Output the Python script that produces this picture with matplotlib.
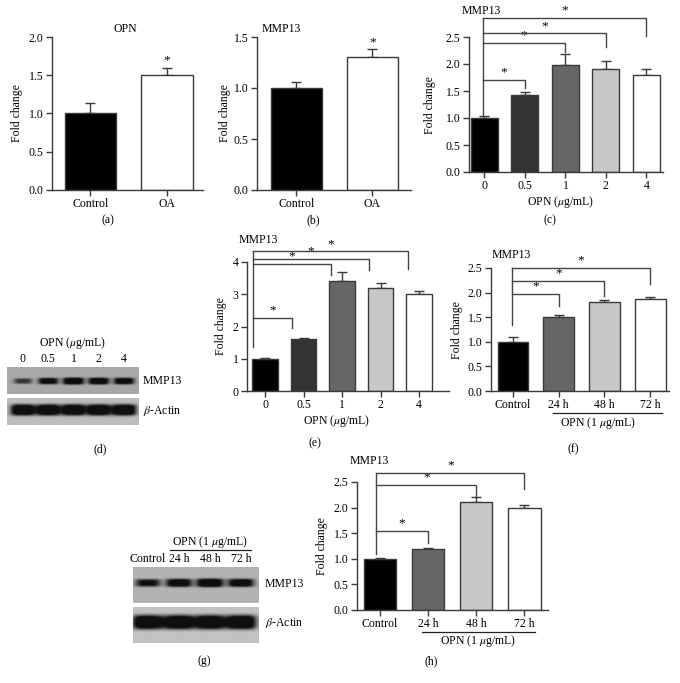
import numpy as np
import matplotlib
matplotlib.use('Agg')
import matplotlib.pyplot as plt
from matplotlib.ticker import FormatStrFormatter
from matplotlib.transforms import blended_transform_factory

plt.rcParams['font.family'] = ['Liberation Serif', 'DejaVu Serif']
plt.rcParams['mathtext.fontset'] = 'stix'
plt.rcParams['font.size'] = 8.5

W, H = 680, 683

# ---- data ----
a_labels = ['Control', 'OA']
a_vals = [1.0, 1.5]
a_err = [0.14, 0.10]

b_labels = ['Control', 'OA']
b_vals = [1.0, 1.3]
b_err = [0.06, 0.08]

c_labels = ['0', '0.5', '1', '2', '4']
c_vals = [1.0, 1.43, 1.98, 1.90, 1.80]
c_err = [0.03, 0.05, 0.20, 0.15, 0.10]
c_sig_to = [1, 2, 3, 4]
c_sig_top = [1.70, 2.39, 2.57, 2.85]
c_sig_end = [1.55, 2.22, 2.31, 2.52]
c_sig_base = 1.05

e_labels = ['0', '0.5', '1', '2', '4']
e_vals = [1.0, 1.6, 3.4, 3.2, 3.0]
e_err = [0.03, 0.05, 0.30, 0.15, 0.10]
e_sig_to = [1, 2, 3, 4]
e_sig_top = [2.26, 3.94, 4.10, 4.33]
e_sig_end = [1.95, 3.60, 3.76, 3.79]
e_sig_base = 1.37

f_labels = ['Control', '24 h', '48 h', '72 h']
f_vals = [1.0, 1.5, 1.8, 1.88]
f_err = [0.10, 0.04, 0.05, 0.04]
f_sig_to = [1, 2, 3]
f_sig_top = [1.97, 2.24, 2.50]
f_sig_end = [1.73, 1.93, 2.17]
f_sig_base = 1.34

h_labels = ['Control', '24 h', '48 h', '72 h']
h_vals = [1.0, 1.2, 2.1, 2.0]
h_err = [0.01, 0.01, 0.10, 0.05]
h_sig_to = [1, 2, 3]
h_sig_top = [1.55, 2.45, 2.68]
h_sig_end = [1.31, 2.22, 2.36]
h_sig_base = 1.10

# western blot band strength per lane (0..1)
d_lanes = ['0', '0.5', '1', '2', '4']
d_mmp13 = [0.55, 0.85, 1.0, 0.95, 0.9]
d_actin = [1.0, 1.0, 1.0, 1.0, 1.0]
g_lanes = ['Control', '24 h', '48 h', '72 h']
g_mmp13 = [0.75, 0.9, 1.0, 0.9]
g_actin = [1.0, 1.0, 1.0, 1.0]

EDGE = '#3a3a3a'
shades5 = ['#000000', '#333333', '#666666', '#c8c8c8', '#ffffff']
shades4 = ['#000000', '#666666', '#c8c8c8', '#ffffff']

fig = plt.figure(figsize=(W / 100, H / 100), dpi=100)


def box(l, t, r, b):
    return fig.add_axes([l / W, 1 - b / H, (r - l) / W, (b - t) / H])


def bar_panel(rect, labels, vals, err, colors, ymax, ystep, xlim, fmt='%.1f'):
    ax = box(*rect)
    x = np.arange(len(vals))
    ax.bar(x, vals, width=0.67, color=colors, edgecolor=EDGE, linewidth=1, zorder=2)
    ax.errorbar(x, vals, yerr=[np.zeros(len(vals)), err], fmt='none', ecolor=EDGE,
                elinewidth=1, capsize=3.5, capthick=1, zorder=1)
    ax.set_xlim(*xlim)
    ax.set_ylim(0, ymax)
    ax.set_yticks(np.arange(0, ymax + 1e-6, ystep))
    ax.yaxis.set_major_formatter(FormatStrFormatter(fmt))
    ax.set_xticks(x, labels)
    for s in ['top', 'right']:
        ax.spines[s].set_visible(False)
    for s in ['left', 'bottom']:
        ax.spines[s].set_color(EDGE)
        ax.spines[s].set_linewidth(1)
    ax.tick_params(direction='out', length=4, width=1, color=EDGE, pad=2)
    ax.patch.set_alpha(0)
    return ax


def brackets(ax, to, top, end, base, x0, off):
    kw = dict(color='#444444', lw=1, clip_on=False, zorder=3)
    ax.plot([x0, x0], [base, max(top)], **kw)
    for i, t, e in zip(to, top, end):
        xi = i + off
        ax.plot([x0, xi, xi], [t, t, e], **kw)
        ax.annotate('*', ((x0 + xi) / 2, t), xytext=(0, 1), textcoords='offset points',
                    ha='center', va='bottom', fontsize=9.5, annotation_clip=False)


def star(ax, i, v):
    ax.annotate('*', (i, v), xytext=(0, 1), textcoords='offset points',
                ha='center', va='bottom', fontsize=9.5, annotation_clip=False)


def blot(rect, levels, xlim, yc, sig, bg, wid):
    ax = box(*rect)
    xs = np.linspace(xlim[0], xlim[1], 400)
    ys = np.linspace(0, 1, 80)
    X, Y = np.meshgrid(xs, ys)
    dark = np.zeros_like(X)
    for i, lv in enumerate(levels):
        wx = wid * (0.7 + 0.3 * lv)
        dark += lv * np.exp(-((X - i) / wx) ** 4) * np.exp(-((Y - yc) / (sig * (0.55 + 0.45 * lv))) ** 4)
    img = bg * (1 - 0.92 * np.clip(1.4 * dark, 0, 1))
    ax.imshow(img, cmap='gray', vmin=0, vmax=1, extent=[xlim[0], xlim[1], 0, 1],
              aspect='auto', origin='lower', interpolation='bilinear')
    ax.set_xlim(*xlim)
    ax.set_ylim(0, 1)
    ax.set_xticks([])
    ax.set_yticks([])
    for s in ax.spines.values():
        s.set_visible(False)
    return ax


# ---- bar panels ----
ax_a = bar_panel((52, 37, 203, 190), a_labels, a_vals, a_err, ['#000000', '#ffffff'], 2.0, 0.5, (-0.50, 1.47))
star(ax_a, 1, a_vals[1] + a_err[1])

ax_b = bar_panel((257, 37, 411, 190), b_labels, b_vals, b_err, ['#000000', '#ffffff'], 1.5, 0.5, (-0.52, 1.51))
star(ax_b, 1, b_vals[1] + b_err[1])

ax_c = bar_panel((469, 37, 663, 172), c_labels, c_vals, c_err, shades5, 2.5, 0.5, (-0.38, 4.41))
brackets(ax_c, c_sig_to, c_sig_top, c_sig_end, c_sig_base, -0.04, 0.0)

ax_e = bar_panel((247, 262, 449, 391), e_labels, e_vals, e_err, shades5, 4, 1, (-0.47, 4.78), '%d')
brackets(ax_e, e_sig_to, e_sig_top, e_sig_end, e_sig_base, -0.32, -0.29)

ax_f = bar_panel((491, 268, 669, 391), f_labels, f_vals, f_err, shades4, 2.5, 0.5, (-0.48, 3.41))
brackets(ax_f, f_sig_to, f_sig_top, f_sig_end, f_sig_base, -0.02, 0.0)

ax_h = bar_panel((357, 482, 548, 610), h_labels, h_vals, h_err, shades4, 2.5, 0.5, (-0.47, 3.49))
brackets(ax_h, h_sig_to, h_sig_top, h_sig_end, h_sig_base, -0.07, 0.0)

# ---- western blots ----
d_xlim = (-0.63, 4.59)
bd1 = blot((7, 367, 139, 394), d_mmp13, d_xlim, 0.48, 0.13, 0.66, 0.42)
bd2 = blot((7, 398, 139, 425), d_actin, d_xlim, 0.56, 0.21, 0.74, 0.49)
tr = blended_transform_factory(bd1.transData, bd1.transAxes)
for i, lab in enumerate(d_lanes):
    bd1.text(i, 1.30, lab, transform=tr, ha='center', va='center')

g_xlim = (-0.48, 3.58)
bg1 = blot((133, 567, 259, 603), g_mmp13, g_xlim, 0.56, 0.12, 0.70, 0.44)
bg2 = blot((133, 607, 259, 643), g_actin, g_xlim, 0.58, 0.20, 0.76, 0.50)
tr = blended_transform_factory(bg1.transData, bg1.transAxes)
for i, lab in enumerate(g_lanes):
    bg1.text(i, 1.22, lab, transform=tr, ha='center', va='center')

# ---- free text in pixel coordinates ----
ov = fig.add_axes([0, 0, 1, 1])
ov.set_xlim(0, W)
ov.set_ylim(H, 0)
ov.axis('off')

for x, y in [(17, 113), (225, 113), (430, 105), (221, 326), (457, 330), (322, 546)]:
    ov.text(x, y, 'Fold change', rotation=90, ha='center', va='center')

ov.text(125, 29, 'OPN', ha='center', va='center')
for x, y in [(262, 29), (462, 11), (239, 240), (492, 255), (350, 461)]:
    ov.text(x, y, 'MMP13', ha='left', va='center')

ov.text(561, 202, r'OPN ($\mu$g/mL)', ha='center', va='center')
ov.text(337, 421, r'OPN ($\mu$g/mL)', ha='center', va='center')
ov.text(73, 343, r'OPN ($\mu$g/mL)', ha='center', va='center')

ov.plot([553, 662], [413, 413], color='#222222', lw=0.9)
ov.text(598, 423, r'OPN (1 $\mu$g/mL)', ha='center', va='center')
ov.plot([422, 535], [632, 632], color='#222222', lw=0.9)
ov.text(478, 641, r'OPN (1 $\mu$g/mL)', ha='center', va='center')
ov.plot([170, 251], [550, 550], color='#222222', lw=0.9)
ov.text(210, 542, r'OPN (1 $\mu$g/mL)', ha='center', va='center')

ov.text(143, 381, 'MMP13', ha='left', va='center')
ov.text(143, 411, r'$\beta$-Actin', ha='left', va='center')
ov.text(265, 584, 'MMP13', ha='left', va='center')
ov.text(265, 623, r'$\beta$-Actin', ha='left', va='center')

for lab, x, y in [('(a)', 108, 220), ('(b)', 313, 220), ('(c)', 550, 220), ('(d)', 100, 449),
                  ('(e)', 315, 443), ('(f)', 573, 449), ('(g)', 204, 661), ('(h)', 431, 661)]:
    ov.text(x, y, lab, ha='center', va='center')

fig.savefig('out.png', dpi=100)
